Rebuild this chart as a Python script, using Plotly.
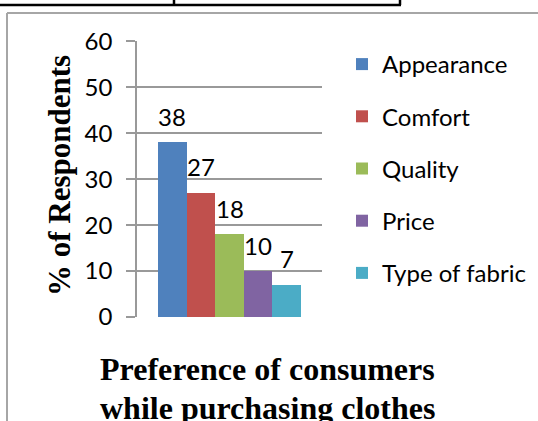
import plotly.graph_objects as go

# Survey results: share of respondents naming each factor
categories = ["Appearance", "Comfort", "Quality", "Price", "Type of fabric"]
respondents = [38, 27, 18, 10, 7]
colors = ["#4f81bd", "#c0504d", "#9bbb59", "#8064a2", "#4bacc6"]
y_ticks = [0, 10, 20, 30, 40, 50, 60]
title_lines = ["Preference of consumers", "while purchasing clothes"]
y_title = "% of Respondents"

W, H = 538, 421
SANS = "Lato, Calibri, sans-serif"
SERIF = "Liberation Serif, Times New Roman, serif"


def px(x):
    return x / W


def py(y):
    return 1 - y / H


fig = go.Figure()
for cat, val, col in zip(categories, respondents, colors):
    fig.add_trace(go.Bar(
        x=[cat], y=[val], name=cat, legendgroup=cat,
        marker=dict(color=col, line=dict(width=0)),
        hoverinfo="skip",
    ))
    # value label floating above each bar
    fig.add_annotation(
        x=cat, y=val, xref="x", yref="y", text=str(val),
        showarrow=False, yshift=26, font=dict(family=SANS, size=24, color="#000"),
    )

grid = "#999999"
fig.update_layout(
    width=W, height=H, autosize=False,
    margin=dict(l=0, r=0, t=0, b=0, pad=0, autoexpand=False),
    paper_bgcolor="white", plot_bgcolor="white",
    barmode="overlay", bargap=0,
    showlegend=True,
    legend=dict(
        x=px(342), y=py(42), xanchor="left", yanchor="top",
        font=dict(family=SANS, size=24, color="#000"),
        traceorder="grouped", tracegroupgap=18,
        bgcolor="rgba(0,0,0,0)", itemclick=False,
    ),
    xaxis=dict(
        domain=[px(137), px(322)], type="category",
        categoryorder="array", categoryarray=categories,
        range=[-1.245, len(categories) - 1 + 1.245],
        showticklabels=False, ticks="", showgrid=False,
        zeroline=False, showline=False, automargin=False,
    ),
    yaxis=dict(
        domain=[py(317), py(41.3)], range=[0, 60],
        tickvals=y_ticks, ticks="outside", ticklen=9, tickwidth=1.5,
        tickcolor=grid, showline=True, linecolor=grid, linewidth=1.5,
        showgrid=True, gridcolor=grid, gridwidth=1.5, zeroline=False,
        ticklabelstandoff=9, automargin=False,
        tickfont=dict(family=SANS, size=24, color="#000"),
    ),
)

# rotated axis title
fig.add_annotation(
    x=px(59), y=py(176), xref="paper", yref="paper", text=y_title,
    textangle=-90, showarrow=False, xanchor="center", yanchor="middle",
    font=dict(family=SERIF, size=31, color="#000", weight="bold"),
)

# chart title below the plot, two lines
for i, line in enumerate(title_lines):
    fig.add_annotation(
        x=px(267), y=py(369 + 39 * i), xref="paper", yref="paper",
        text=line, showarrow=False, xanchor="center", yanchor="middle",
        font=dict(family=SERIF, size=32, color="#000", weight="bold"),
    )

# chart frame and the edge of the table above it
fig.add_shape(type="line", xref="paper", yref="paper",
              x0=px(7), x1=px(540), y0=py(13), y1=py(13),
              line=dict(color="#a6a6a6", width=2))
fig.add_shape(type="line", xref="paper", yref="paper",
              x0=px(7), x1=px(7), y0=py(13), y1=py(425),
              line=dict(color="#a6a6a6", width=2))
fig.add_shape(type="line", xref="paper", yref="paper",
              x0=px(0), x1=px(401), y0=py(5), y1=py(5),
              line=dict(color="#000", width=2.5))
for xv in (174, 400):
    fig.add_shape(type="line", xref="paper", yref="paper",
                  x0=px(xv), x1=px(xv), y0=py(-2), y1=py(5),
                  line=dict(color="#000", width=2.5))

fig.write_html("out.html")
